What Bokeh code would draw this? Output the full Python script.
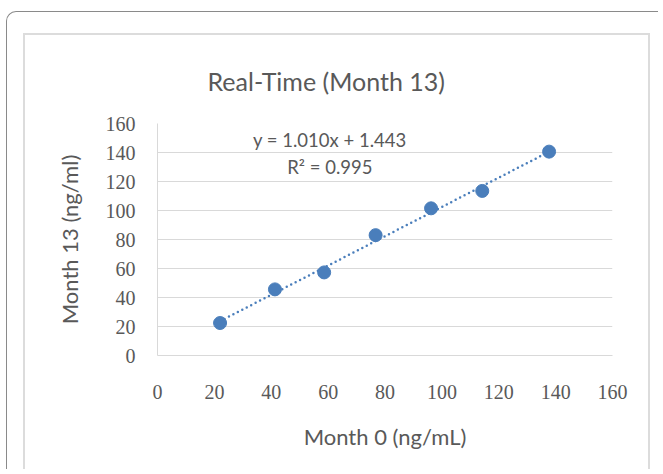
from bokeh.plotting import figure
from bokeh.layouts import column
from bokeh.models import Range1d, FixedTicker, Label
from bokeh.embed import file_html
from bokeh.resources import INLINE
import numpy as np

# Data
month0 = [22.0, 41.3, 58.6, 76.7, 96.2, 114.2, 137.7]
month13 = [22.4, 45.6, 57.3, 83.0, 101.5, 113.5, 140.6]
slope = 1.010
intercept = 1.443
eq_text = "y = 1.010x + 1.443"
r2_text = "R² = 0.995"
ticks = [0, 20, 40, 60, 80, 100, 120, 140, 160]
title_text = "Real-Time (Month 13)"
x_label = "Month 0 (ng/mL)"
y_label = "Month 13 (ng/ml)"

TEXT = "#595959"
BLUE = "#4a7ebb"

p = figure(width=627, height=436, output_backend="svg", toolbar_location=None,
           x_range=Range1d(0, 160), y_range=Range1d(0, 160),
           min_border_left=132, min_border_right=40, min_border_top=88, min_border_bottom=116,
           title=title_text)
p.background_fill_color = "white"
p.border_fill_color = "white"
p.outline_line_color = None
p.styles = {"border-top": "2px solid #dcdcdc", "border-left": "2px solid #dcdcdc",
            "border-right": "2px solid #dcdcdc"}

p.title.text_font = "Lato"
p.title.text_font_size = "25px"
p.title.text_font_style = "normal"
p.title.text_color = TEXT
p.title.align = "left"
p.title.offset = 50
p.title.standoff = 55

for ax in (p.xaxis[0], p.yaxis[0]):
    ax.ticker = FixedTicker(ticks=ticks)
    ax.major_tick_line_color = None
    ax.minor_tick_line_color = None
    ax.major_tick_out = 0
    ax.major_tick_in = 0
    ax.axis_line_color = "#d9d9d9"
    ax.axis_line_width = 1
    ax.major_label_text_font = "Liberation Serif"
    ax.major_label_text_font_size = "20px"
    ax.major_label_text_color = TEXT
    ax.axis_label_text_font = "Lato"
    ax.axis_label_text_font_size = "22px"
    ax.axis_label_text_font_style = "normal"
    ax.axis_label_text_color = TEXT

p.xaxis.axis_label = x_label
p.yaxis.axis_label = y_label
p.xaxis.major_label_standoff = 29
p.xaxis.axis_label_standoff = 21
p.yaxis.major_label_standoff = 22
p.yaxis.axis_label_standoff = 20

p.xgrid.grid_line_color = None
p.ygrid.grid_line_color = "#d9d9d9"
p.ygrid.grid_line_width = 1
p.ygrid.ticker = FixedTicker(ticks=ticks)

# trendline
xs = np.array([min(month0), max(month0)])
p.line(xs, slope * xs + intercept, line_color=BLUE, line_width=2.5, line_dash="0 5", line_cap="round")

p.scatter(month0, month13, size=13, fill_color=BLUE, line_color=BLUE)

p.add_layout(Label(x=60.6, y=148.4, text=eq_text, text_font="Lato", text_font_size="18.5px",
                   text_color=TEXT, text_align="center", text_baseline="middle"))
p.add_layout(Label(x=60.6, y=130.1, text=r2_text, text_font="Lato", text_font_size="18.5px",
                   text_color=TEXT, text_align="center", text_baseline="middle"))

outer = column(p, styles={"border-top": "1.5px solid #8a8a8a", "border-left": "1.5px solid #8a8a8a",
                          "border-top-left-radius": "10px", "margin-left": "6px", "margin-top": "11px",
                          "padding-left": "16px", "padding-top": "21px", "padding-right": "8px",
                          "background": "white"})

open("out.html", "w").write(file_html(outer, INLINE))
